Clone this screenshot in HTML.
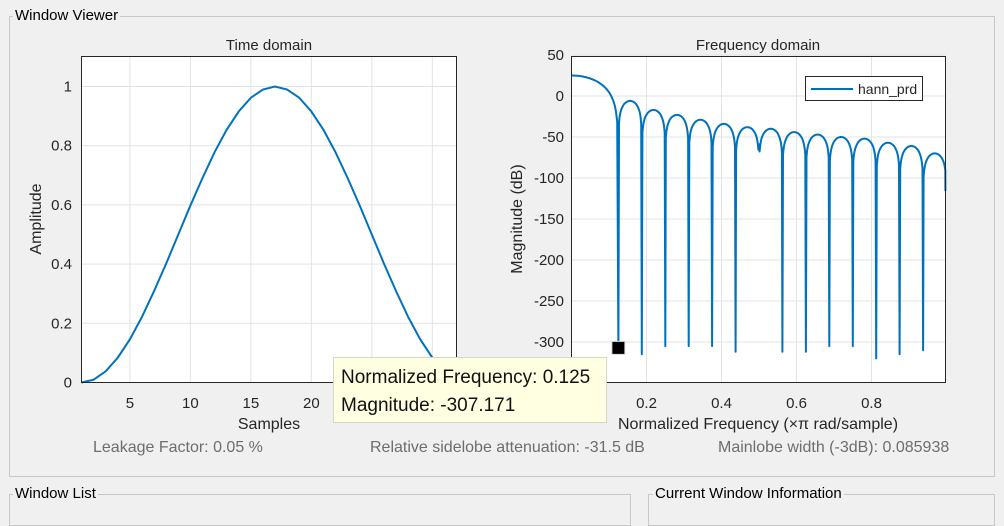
<!DOCTYPE html>
<html><head><meta charset="utf-8"><style>
body{margin:0;width:1004px;height:505px;background:#f0f0f0;font-family:"Liberation Sans",sans-serif;overflow:hidden;position:relative}
.fs{position:absolute;border:1px solid #c8c8c8}
.lg{position:absolute;background:#f0f0f0;font-size:15px;color:#000;padding:0 2px}
.info{position:absolute;top:439px;font-size:16px;color:#6d6d6d}
</style></head><body>
<div class="fs" style="left:9px;top:16px;width:984px;height:459px"></div>
<div class="lg" style="left:13px;top:7px">Window Viewer</div>
<div class="fs" style="left:9px;top:494px;width:620px;height:30px"></div>
<div class="lg" style="left:13px;top:485px">Window List</div>
<div class="fs" style="left:648px;top:494px;width:345px;height:30px"></div>
<div class="lg" style="left:653px;top:485px">Current Window Information</div>
<div class="info" style="left:93px">Leakage Factor: 0.05 %</div>
<div class="info" style="left:370px">Relative sidelobe attenuation: -31.5 dB</div>
<div class="info" style="left:718px">Mainlobe width (-3dB): 0.085938</div>
<svg id="s" width="1004" height="505" style="position:absolute;left:0;top:0" font-family="Liberation Sans, sans-serif"></svg>
<div style="position:absolute;left:333px;top:357px;width:274px;height:66px;background:#ffffe1;border:1px solid #d8d8c0;font-size:19px;color:#111;line-height:28px;padding:6px 0 0 7px;box-sizing:border-box">Normalized Frequency: 0.125<br>Magnitude: -307.171</div>
<script>
// time domain data (hann periodic, 32 samples)
const tSamples=[1,2,3,4,5,6,7,8,9,10,11,12,13,14,15,16,17,18,19,20,21,22,23,24,25,26,27,28,29,30,31,32];
const tValues=[0,0.0096,0.038,0.084,0.146,0.222,0.309,0.402,0.5,0.598,0.691,0.778,0.854,0.916,0.962,0.99,1,0.99,0.962,0.916,0.854,0.778,0.691,0.598,0.5,0.402,0.309,0.222,0.146,0.084,0.038,0.0096];
const tXTicks=[5,10,15,20,25,30];
const tYTicks=[0,0.2,0.4,0.6,0.8,1];
// frequency domain data
const fNulls=[0.125,0.1875,0.25,0.3125,0.375,0.4375,0.5,0.5625,0.625,0.6875,0.75,0.8125,0.875,0.9375];
const fNullDepth=[-307,-315,-305,-305,-305,-312,-59,-312,-312,-305,-305,-320,-315,-310];
const fLobePeaks=[-6,-17,-23,-29,-34,-38,-40,-44,-47,-50,-52,-57,-61,-70];
const fMainPeak=25;
const fEnd=0.997, fEndVal=-116;
const fXTicks=[0.2,0.4,0.6,0.8];
const fYTicks=[50,0,-50,-100,-150,-200,-250,-300];
const marker={f:0.125,m:-307.171};

const S=document.getElementById('s'),NS='http://www.w3.org/2000/svg';
function mk(t,a,p){const e=document.createElementNS(NS,t);for(const k in a)e.setAttribute(k,a[k]);(p||S).appendChild(e);return e;}
function txt(x,y,s,anchor,size,name,rot){const e=mk('text',{x:x,y:y,'text-anchor':anchor,'font-size':size,fill:'#262626'});if(rot)e.setAttribute('transform','rotate(-90 '+x+' '+y+')');e.textContent=s;


return e;}
// time axes
const tx=v=>81.5+(v-1)*(375/31), ty=v=>382.5-v*296;
mk('rect',{x:81.5,y:56.5,width:375,height:326,fill:'#fff'});
tXTicks.forEach(v=>{mk('line',{x1:tx(v),x2:tx(v),y1:56.5,y2:382.5,stroke:'#e3e3e3'});txt(tx(v),408,v,'middle',15,'time-x-tick');});
tYTicks.forEach(v=>{mk('line',{x1:81.5,x2:456.5,y1:ty(v),y2:ty(v),stroke:'#e3e3e3'});txt(72,ty(v)+5,v,'end',15,'time-y-tick');});
let d=tSamples.map((s,i)=>(i?'L':'M')+tx(s).toFixed(1)+' '+ty(tValues[i]).toFixed(1)).join(' ');
let p=mk('path',{d:d,fill:'none',stroke:'#0072bd','stroke-width':2});


mk('rect',{x:81.5,y:56.5,width:375,height:326,fill:'none',stroke:'#262626'});
txt(269,50,'Time domain','middle',15,'time-domain-title');
txt(269,429,'Samples','middle',16,'time-x-label');
txt(41,219,'Amplitude','middle',16,'time-y-label',1);
// freq axes
const fx=v=>571.5+v*375, fy=v=>96-v*0.82;
mk('rect',{x:571.5,y:56.5,width:374,height:326,fill:'#fff'});
fXTicks.forEach(v=>{mk('line',{x1:fx(v),x2:fx(v),y1:56.5,y2:382.5,stroke:'#e3e3e3'});txt(fx(v),408,v,'middle',15,'freq-x-tick');});
fYTicks.forEach(v=>{mk('line',{x1:571.5,x2:945.5,y1:fy(v),y2:fy(v),stroke:'#e3e3e3'});txt(564,fy(v)+5,v,'end',15,'freq-y-tick');});
let pts=[];
for(let i=0;i<40;i++){const f=fNulls[0]*i/40;const c=Math.cos(Math.PI/2*f/fNulls[0]);pts.push([f,fMainPeak+40*Math.log10(c)]);}
for(let k=0;k<fNulls.length;k++){
 const a=fNulls[k],b=k+1<fNulls.length?fNulls[k+1]:fNulls[k]+(fNulls[1]-fNulls[0]);
 pts.push([a,fNullDepth[k]]);
 for(let i=1;i<40;i++){const t=i/40,f=a+(b-a)*t;if(f>fEnd)break;
  const sn=Math.sin(Math.PI*t);pts.push([f,fLobePeaks[k]+25*Math.log10(sn)]);}
}
pts.push([fEnd,fEndVal]);
d=pts.map((q,i)=>(i?'L':'M')+fx(q[0]).toFixed(1)+' '+fy(q[1]).toFixed(1)).join(' ');
p=mk('path',{d:d,fill:'none',stroke:'#0072bd','stroke-width':2,'stroke-linejoin':'round'});


mk('rect',{x:571.5,y:56.5,width:374,height:326,fill:'none',stroke:'#262626'});
let m=mk('rect',{x:fx(marker.f)-6.5,y:fy(marker.m)-6.5,width:13,height:13,fill:'#000',stroke:'#ddd'});


let lg=mk('rect',{x:805.5,y:76.5,width:117,height:24,fill:'#fff',stroke:'#262626'});


mk('line',{x1:811,x2:853,y1:89,y2:89,stroke:'#0072bd','stroke-width':2});
txt(858,94,'hann_prd','start',14,'legend-entry');
txt(758,50,'Frequency domain','middle',15,'freq-domain-title');
txt(758,429,'Normalized Frequency  (\u00d7\u03c0 rad/sample)','middle',16,'freq-x-label');
txt(522,219,'Magnitude (dB)','middle',16,'freq-y-label',1);
</script>
</body></html>
